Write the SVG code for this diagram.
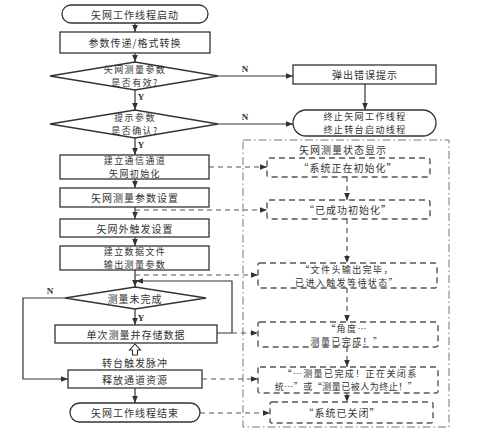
<svg xmlns="http://www.w3.org/2000/svg" width="479" height="440" viewBox="0 0 479 440">
<defs>
<marker id="ah" viewBox="0 0 10 10" refX="10" refY="5" markerWidth="7" markerHeight="7" orient="auto" markerUnits="userSpaceOnUse"><path d="M0,1 L10,5 L0,9 Z" fill="#333"/></marker>
<style>
.n{fill:#fff;stroke:#333;stroke-width:1.3}
.s{fill:#fff;stroke:#555;stroke-width:1.4;stroke-dasharray:6 4}
.c{fill:none;stroke:#333;stroke-width:1.2}
.d{fill:none;stroke:#555;stroke-width:1.2;stroke-dasharray:5 4}
.box{fill:none;stroke:#777;stroke-width:1;stroke-dasharray:8 3 1.5 3}
text{font-family:"Noto Sans CJK SC","Noto Sans",sans-serif;font-size:10px;fill:#333;text-anchor:middle;dominant-baseline:central;letter-spacing:1px}
.t2{font-size:9px;letter-spacing:1.4px}
.l{font-family:"Liberation Serif",serif;font-size:9px;font-weight:bold;letter-spacing:0}
</style>
</defs>
<rect x="0" y="0" width="479" height="440" fill="#fff"/>

<g id="container"><rect class="box" x="243" y="140" width="206" height="287"/><text x="343" y="149">矢网测量状态显示</text></g>

<g id="connectors">
<path class="c" d="M135,23 V32" marker-end="url(#ah)"/>
<path class="c" d="M135,53 V62" marker-end="url(#ah)"/>
<path class="c" d="M135,90 V110" marker-end="url(#ah)"/>
<path class="c" d="M218,76 H293" marker-end="url(#ah)"/>
<path class="c" d="M365,84 V110" marker-end="url(#ah)"/>
<path class="c" d="M218,124 H293" marker-end="url(#ah)"/>
<path class="c" d="M135,138 V155" marker-end="url(#ah)"/>
<path class="c" d="M135,179 V188" marker-end="url(#ah)"/>
<path class="c" d="M135,207 V219" marker-end="url(#ah)"/>
<path class="c" d="M135,237 V246" marker-end="url(#ah)"/>
<path class="c" d="M135,270 V287" marker-end="url(#ah)"/>
<path class="c" d="M135,309 V325" marker-end="url(#ah)"/>
<path class="c" d="M217,333 H232 V281 H136" marker-end="url(#ah)"/>
<path class="c" d="M65,298 H23 V379 H68" marker-end="url(#ah)"/>
<path class="c" d="M135,388 V403" marker-end="url(#ah)"/>
<path d="M135,344 L129.5,350 H132.5 V355 H137.5 V350 H140.5 Z" fill="#fff" stroke="#333" stroke-width="1.1"/>
<path class="d" d="M209,167 H267" marker-end="url(#ah)"/>
<path class="d" d="M135,210 H267" marker-end="url(#ah)"/>
<path class="d" d="M135,275 H258" marker-end="url(#ah)"/>
<path class="d" d="M232,333 H258" marker-end="url(#ah)"/>
<path class="d" d="M202,379 H258" marker-end="url(#ah)"/>
<path class="d" d="M200,413 H270" marker-end="url(#ah)"/>
<path class="d" d="M347,177 V200" marker-end="url(#ah)"/>
<path class="d" d="M347,219 V263" marker-end="url(#ah)"/>
<path class="d" d="M347,288 V322" marker-end="url(#ah)"/>
<path class="d" d="M347,347 V367" marker-end="url(#ah)"/>
<path class="d" d="M347,393 V402" marker-end="url(#ah)"/>
<text class="l" x="141" y="97">Y</text>
<text class="l" x="141" y="145">Y</text>
<text class="l" x="141" y="318">Y</text>
<text class="l" x="245" y="69">N</text>
<text class="l" x="245" y="117">N</text>
<text class="l" x="50" y="291">N</text>
<text x="135" y="362">转台触发脉冲</text>
</g>

<g id="start"><rect class="n" x="62" y="5" width="146" height="18" rx="9"/><text x="135" y="14">矢网工作线程启动</text></g>
<g id="convert"><rect class="n" x="60" y="32" width="150" height="21"/><text x="135" y="42.5">参数传递/格式转换</text></g>
<g id="valid"><polygon class="n" points="50,76 135,62 218,76 135,90"/><text class="t2" x="135" y="69.5">矢网测量参数</text><text class="t2" x="135" y="82.5">是否有效?</text></g>
<g id="confirm"><polygon class="n" points="50,124 135,110 218,124 135,138"/><text class="t2" x="135" y="117.5">提示参数</text><text class="t2" x="135" y="130.5">是否确认?</text></g>
<g id="error"><rect class="n" x="293" y="65" width="143" height="19"/><text x="365" y="74.5">弹出错误提示</text></g>
<g id="abort"><rect class="n" x="293" y="110" width="143" height="26" rx="13"/><text class="t2" x="365" y="116.5">终止矢网工作线程</text><text class="t2" x="365" y="129.5">终止转台启动线程</text></g>
<g id="init"><rect class="n" x="60" y="155" width="149" height="24"/><text class="t2" x="135" y="160.5">建立通信通道</text><text class="t2" x="135" y="173.5">矢网初始化</text></g>
<g id="param"><rect class="n" x="60" y="188" width="149" height="19"/><text x="135" y="197.5">矢网测量参数设置</text></g>
<g id="trigger"><rect class="n" x="60" y="219" width="149" height="18"/><text x="135" y="228">矢网外触发设置</text></g>
<g id="file"><rect class="n" x="60" y="246" width="149" height="24"/><text class="t2" x="135" y="251.5">建立数据文件</text><text class="t2" x="135" y="264.5">输出测量参数</text></g>
<g id="notdone"><polygon class="n" points="65,298 135,287 206,298 135,309"/><text x="135" y="298">测量未完成</text></g>
<g id="measure"><rect class="n" x="55" y="325" width="162" height="18"/><text x="136" y="334">单次测量并存储数据</text></g>
<g id="release"><rect class="n" x="68" y="370" width="134" height="18"/><text x="135" y="379">释放通道资源</text></g>
<g id="end"><rect class="n" x="70" y="403" width="130" height="19" rx="9.5"/><text x="135" y="412.5">矢网工作线程结束</text></g>

<g id="st1"><rect class="s" x="267" y="158" width="163" height="19" rx="2"/><text x="348" y="167.5">“系统正在初始化”</text></g>
<g id="st2"><rect class="s" x="267" y="200" width="163" height="19" rx="2"/><text x="348" y="209.5">“已成功初始化”</text></g>
<g id="st3"><rect class="s" x="258" y="263" width="179" height="25" rx="2"/><text class="t2" x="347" y="269">“文件头输出完毕，</text><text class="t2" x="347" y="282">已进入触发等待状态”</text></g>
<g id="st4"><rect class="s" x="258" y="322" width="180" height="25" rx="2"/><text class="t2" x="347" y="328">“角度…</text><text class="t2" x="347" y="341">测量已完成！”</text></g>
<g id="st5"><rect class="s" x="258" y="367" width="180" height="26" rx="2"/><text class="t2" x="350" y="373.5">“…测量已完成！正在关闭系</text><text class="t2" x="346" y="386.5" style="letter-spacing:0.5px">统…”或“测量已被人为终止！”</text></g>
<g id="st6"><rect class="s" x="270" y="402" width="163" height="21" rx="2"/><text x="342" y="412.5">“系统已关闭”</text></g>
</svg>
